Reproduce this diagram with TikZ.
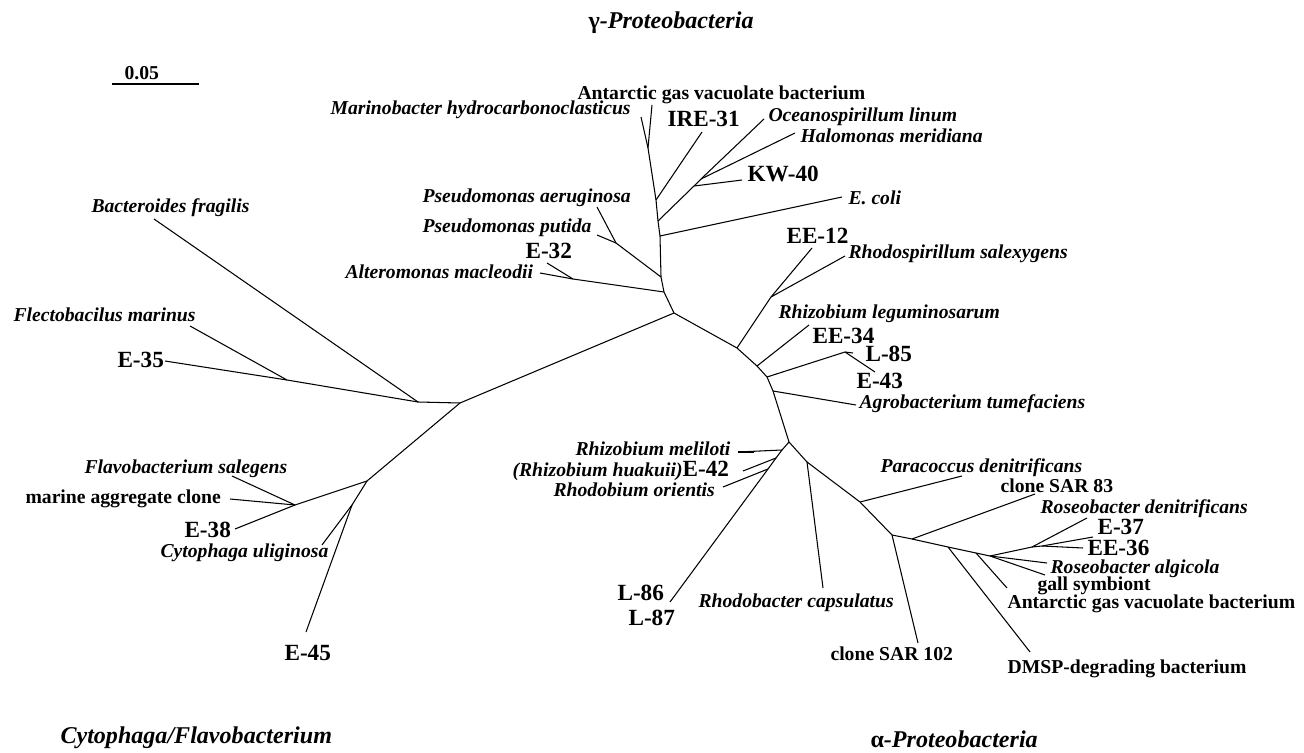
\documentclass[tikz,border=0pt]{standalone}
\usepackage{fontspec}
\setmainfont{Liberation Serif}

\begin{document}
\begin{tikzpicture}[x=0.02cm, y=-0.02cm, line width=0.6pt,
	taxon/.style = {anchor=base west, inner sep=0pt,
		font=\bfseries\itshape\fontsize{11.2}{12}\selectfont},
	clone/.style = {anchor=base west, inner sep=0pt,
		font=\bfseries\fontsize{11.2}{12}\selectfont},
	isolate/.style = {anchor=base west, inner sep=0pt,
		font=\bfseries\fontsize{13.2}{14}\selectfont},
	grouplabel/.style = {anchor=base west, inner sep=0pt,
		font=\bfseries\itshape\fontsize{13.7}{15}\selectfont}]
	
	\useasboundingbox (0,0) rectangle (1304,753);
	
	% Scale bar
	\coordinate (sbl) at (112,84);
	\coordinate (sbr) at (199,84);
	\draw[line width=1.1pt] (sbl) -- (sbr);
	\node[clone] (scale) at (124,80) {0.05};
	
	% Internal nodes
	\coordinate (root) at (674,313);
	\coordinate (cf1) at (460,403);
	\coordinate (cf2) at (418,402);
	\coordinate (cf3) at (287,380);
	\coordinate (cf4) at (367,481);
	\coordinate (cf5) at (295,505);
	\coordinate (cf6) at (352,505);
	\coordinate (g1) at (664,292);
	\coordinate (g2) at (661,277);
	\coordinate (g3) at (660,236);
	\coordinate (g4) at (658,221);
	\coordinate (g5) at (656,200);
	\coordinate (g6) at (648,148);
	\coordinate (alt) at (573,279);
	\coordinate (pse) at (616,243);
	\coordinate (kw1) at (694,186);
	\coordinate (kw2) at (701,179);
	\coordinate (a1) at (737,348);
	\coordinate (a2) at (757,366);
	\coordinate (a3) at (767,377);
	\coordinate (a4) at (773,391);
	\coordinate (a5) at (789,442);
	\coordinate (rs) at (771,297);
	\coordinate (l85) at (845,352);
	\coordinate (m1) at (782,450);
	\coordinate (m2) at (776,458);
	\coordinate (m3) at (768,469);
	\coordinate (s1) at (807,462);
	\coordinate (s2) at (860,502);
	\coordinate (s3) at (892,535);
	\coordinate (s4) at (912,539);
	\coordinate (s5) at (948,547);
	\coordinate (s6) at (976,553);
	\coordinate (s7) at (990,556);
	\coordinate (s8) at (1032,547);
	\coordinate (s9) at (1042,546);
	
	% Tips
	\coordinate (tBact) at (154,219);
	\coordinate (tFlect) at (190,326);
	\coordinate (tE35) at (165,361);
	\coordinate (tFlavo) at (232,476);
	\coordinate (tMarine) at (230,499);
	\coordinate (tE38) at (235,529);
	\coordinate (tCytu) at (322,545);
	\coordinate (tE45) at (306,632);
	\coordinate (tAltero) at (540,273);
	\coordinate (tE32) at (547,263);
	\coordinate (tPaer) at (597,207);
	\coordinate (tPput) at (597,235);
	\coordinate (tEcoli) at (842,197);
	\coordinate (tKW40) at (742,180);
	\coordinate (tOcean) at (764,119);
	\coordinate (tHalo) at (795,133);
	\coordinate (tIRE) at (702,132);
	\coordinate (tMarino) at (641,117);
	\coordinate (tAntG) at (652,105);
	\coordinate (tEE12) at (812,248);
	\coordinate (tRsal) at (845,256);
	\coordinate (tRleg) at (809,325);
	\coordinate (tL85) at (853,353);
	\coordinate (tE43) at (875,372);
	\coordinate (tAgro) at (856,405);
	\coordinate (tRmel) at (738,452);
	\coordinate (tRmelb) at (754,452);
	\coordinate (tE42) at (743,471);
	\coordinate (tRori) at (723,487);
	\coordinate (tL86) at (670,602);
	\coordinate (tRcap) at (823,588);
	\coordinate (tPara) at (962,476);
	\coordinate (tSAR102) at (918,643);
	\coordinate (tSAR83) at (1035,494);
	\coordinate (tDMSP) at (1030,652);
	\coordinate (tAntA) at (1007,588);
	\coordinate (tGall) at (1045,575);
	\coordinate (tRalg) at (1047,563);
	\coordinate (tRden) at (1087,518);
	\coordinate (tE37) at (1093,537);
	\coordinate (tEE36) at (1083,548);
	
	% Cytophaga/Flavobacterium branches
	\draw (root) -- (cf1) -- (cf2) -- (tBact);
	\draw (cf2) -- (cf3) -- (tFlect);
	\draw (cf3) -- (tE35);
	\draw (cf1) -- (cf4) -- (cf5) -- (tFlavo);
	\draw (cf5) -- (tMarine);
	\draw (cf5) -- (tE38);
	\draw (cf4) -- (cf6) -- (tCytu);
	\draw (cf6) -- (tE45);
	
	% gamma branches
	\draw (root) -- (g1) -- (g2) -- (g3) -- (g4) -- (g5) -- (g6) -- (tMarino);
	\draw (g6) -- (tAntG);
	\draw (g5) -- (tIRE);
	\draw (g4) -- (kw1) -- (tKW40);
	\draw (kw1) -- (kw2) -- (tOcean);
	\draw (kw2) -- (tHalo);
	\draw (g3) -- (tEcoli);
	\draw (g2) -- (pse) -- (tPaer);
	\draw (pse) -- (tPput);
	\draw (g1) -- (alt) -- (tAltero);
	\draw (alt) -- (tE32);
	
	% alpha branches
	\draw (root) -- (a1) -- (a2) -- (a3) -- (a4) -- (a5) -- (s1) -- (s2) -- (s3)
		-- (s4) -- (s5) -- (s6) -- (s7) -- (s8) -- (tRden);
	\draw (a1) -- (rs) -- (tEE12);
	\draw (rs) -- (tRsal);
	\draw (a2) -- (tRleg);
	\draw (a3) -- (l85) -- (tL85);
	\draw (l85) -- (tE43);
	\draw (a4) -- (tAgro);
	\draw (a5) -- (m1) -- (tRmel);
	\draw[line width=1.2pt] (tRmel) -- (tRmelb);
	\draw (m1) -- (m2) -- (tE42);
	\draw (m2) -- (m3) -- (tRori);
	\draw (m3) -- (tL86);
	\draw (s1) -- (tRcap);
	\draw (s2) -- (tPara);
	\draw (s3) -- (tSAR102);
	\draw (s4) -- (tSAR83);
	\draw (s5) -- (tDMSP);
	\draw (s6) -- (tAntA);
	\draw (s7) -- (tGall);
	\draw (s7) -- (tRalg);
	\draw (s8) -- (s9) -- (tE37);
	\draw (s9) -- (tEE36);
	
	% Group labels
	\node[grouplabel] (gamma) at (588,29) {{\upshape γ}-Proteobacteria};
	\node[grouplabel] (cyto) at (60,743) {Cytophaga/Flavobacterium};
	\node[grouplabel] (alpha) at (870,747) {{\upshape α}-Proteobacteria};
	
	% gamma labels
	\node[clone] (antG) at (577,100) {Antarctic gas vacuolate bacterium};
	\node[taxon] (marino) at (330,115) {Marinobacter hydrocarbonoclasticus};
	\node[isolate] (ire) at (667,127) {IRE-31};
	\node[taxon] (ocean) at (768,122) {Oceanospirillum linum};
	\node[taxon] (halo) at (800,143) {Halomonas meridiana};
	\node[isolate] (kw40) at (747,182) {KW-40};
	\node[taxon] (ecoli) at (848,205) {E. coli};
	\node[taxon] (paer) at (422,203) {Pseudomonas aeruginosa};
	\node[taxon] (pput) at (422,233) {Pseudomonas putida};
	\node[isolate] (e32) at (525,258) {E-32};
	\node[taxon] (altero) at (345,278) {Alteromonas macleodii};
	
	% Cytophaga/Flavobacterium labels
	\node[taxon] (bact) at (91,213) {Bacteroides fragilis};
	\node[taxon] (flect) at (13,321) {Flectobacilus marinus};
	\node[isolate] (e35) at (117,367) {E-35};
	\node[taxon] (flavo) at (84,473) {Flavobacterium salegens};
	\node[clone] (marine) at (25,503) {marine aggregate clone};
	\node[isolate] (e38) at (184,537) {E-38};
	\node[taxon] (cytu) at (160,557) {Cytophaga uliginosa};
	\node[isolate] (e45) at (284,660) {E-45};
	
	% alpha labels
	\node[isolate] (ee12) at (786,243) {EE-12};
	\node[taxon] (rsal) at (848,258) {Rhodospirillum salexygens};
	\node[taxon] (rleg) at (778,318) {Rhizobium leguminosarum};
	\node[isolate] (ee34) at (812,343) {EE-34};
	\node[isolate] (l85lab) at (865,361) {L-85};
	\node[isolate] (e43) at (856,388) {E-43};
	\node[taxon] (agro) at (859,408) {Agrobacterium tumefaciens};
	\node[taxon] (rmel) at (575,455) {Rhizobium meliloti};
	\node[taxon] (e42) at (512,476) {(Rhizobium huakuii)\upshape\fontsize{13.2}{14}\selectfont E-42};
	\node[taxon] (rori) at (553,496) {Rhodobium orientis};
	\node[isolate] (l86) at (617,600) {L-86};
	\node[isolate] (l87) at (628,625) {L-87};
	\node[taxon] (rcap) at (698,607) {Rhodobacter capsulatus};
	\node[clone] (sar102) at (830,660) {clone SAR 102};
	\node[taxon] (para) at (880,472) {Paracoccus denitrificans};
	\node[clone] (sar83) at (1000,492) {clone SAR 83};
	\node[taxon] (rden) at (1040,513) {Roseobacter denitrificans};
	\node[isolate] (e37) at (1097,534) {E-37};
	\node[isolate] (ee36) at (1087,555) {EE-36};
	\node[taxon] (ralg) at (1050,573) {Roseobacter algicola};
	\node[clone] (gall) at (1037,590) {gall symbiont};
	\node[clone] (antA) at (1007,608) {Antarctic gas vacuolate bacterium};
	\node[clone] (dmsp) at (1007,673) {DMSP-degrading bacterium};
	
\end{tikzpicture}
\end{document}
